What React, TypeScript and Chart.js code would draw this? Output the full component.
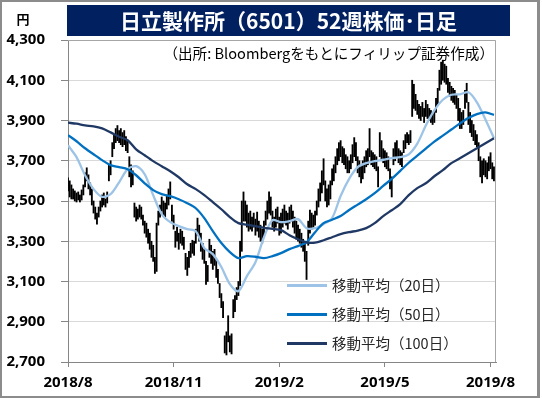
import React, { useEffect, useRef } from "react";
import { Chart, registerables } from "chart.js";

Chart.register(...registerables);

// Daily high / low (yen), one entry per trading day, Aug 2018 - Aug 2019
const highs = [
  3615, 3600, 3580, 3560, 3550, 3540, 3545, 3530, 3555, 3580,
  3640, 3665, 3630, 3590, 3560, 3500, 3470, 3440, 3470, 3500,
  3530, 3540, 3510, 3545, 3680, 3700, 3790, 3830, 3860, 3875,
  3850, 3860, 3840, 3850, 3820, 3800, 3720, 3680, 3650, 3490,
  3470, 3460, 3480, 3470, 3430, 3400, 3390, 3360, 3340, 3300,
  3280, 3220, 3390, 3450, 3480, 3520, 3500, 3490, 3530, 3560,
  3595, 3480, 3430, 3350, 3370, 3340, 3360, 3350, 3320, 3240,
  3220, 3250, 3290, 3305, 3300, 3360, 3415, 3380, 3340, 3290,
  3260, 3200, 3180, 3310, 3280, 3250, 3260, 3210, 3160, 3090,
  3040, 3000, 2830, 2850, 2930, 2830, 2840, 3010, 3030, 3070,
  3100, 3300, 3500, 3545, 3500, 3480, 3440, 3450, 3420, 3440,
  3410, 3445, 3400, 3380, 3360, 3400, 3450, 3500, 3545, 3520,
  3450, 3420, 3460, 3470, 3420, 3440, 3460, 3480, 3450, 3440,
  3470, 3480, 3450, 3420, 3400, 3380, 3360, 3340, 3310, 3290,
  3250, 3400, 3455, 3440, 3430, 3450, 3500, 3560, 3590, 3650,
  3710, 3600, 3560, 3580, 3600, 3660, 3680, 3720, 3760, 3790,
  3800, 3770, 3760, 3730, 3720, 3700, 3730, 3780, 3815, 3790,
  3720, 3700, 3680, 3700, 3720, 3750, 3760, 3860, 3750, 3740,
  3730, 3720, 3670, 3840, 3800, 3760, 3750, 3740, 3720, 3660,
  3620, 3760, 3790, 3800, 3760, 3750, 3740, 3800, 3830, 3840,
  3830, 3850, 4100, 4080, 4030, 4000, 3980, 3970, 3990, 3960,
  4000, 3980, 3960, 3950, 3940, 3950, 4010, 4060, 4150, 4190,
  4200, 4180, 4170, 4110, 4090, 4070, 4060, 4050, 4030, 4010,
  3960, 3940, 3950, 4050, 4085, 3990, 3940, 3900, 3880, 3850,
  3830, 3790, 3720, 3700, 3710, 3700, 3690, 3720, 3740, 3690,
  3670,
];
const lows = [
  3550, 3520, 3510, 3510, 3500, 3495, 3505, 3495, 3505, 3530,
  3570, 3600, 3560, 3530, 3480, 3440, 3410, 3385, 3420, 3450,
  3470, 3480, 3470, 3490, 3600, 3630, 3720, 3760, 3790, 3800,
  3790, 3780, 3770, 3780, 3750, 3740, 3620, 3570, 3580, 3420,
  3400, 3410, 3420, 3410, 3380, 3340, 3320, 3290, 3260, 3220,
  3200, 3140, 3150, 3380, 3420, 3450, 3430, 3420, 3460, 3480,
  3510, 3400, 3360, 3270, 3300, 3260, 3290, 3280, 3260, 3160,
  3130, 3170, 3220, 3240, 3230, 3290, 3330, 3300, 3250, 3210,
  3190, 3085, 3100, 3220, 3190, 3160, 3180, 3120, 3090, 3020,
  2970, 2920, 2745, 2735, 2800, 2750, 2740, 2920, 2950, 3010,
  3030, 3080, 3250, 3400, 3400, 3370, 3350, 3360, 3350, 3370,
  3330, 3350, 3320, 3300, 3290, 3320, 3380, 3410, 3440, 3430,
  3370, 3350, 3370, 3390, 3330, 3340, 3370, 3390, 3380, 3360,
  3390, 3400, 3370, 3340, 3310, 3300, 3290, 3270, 3250, 3200,
  3110, 3280, 3340, 3360, 3370, 3380, 3430, 3470, 3500, 3540,
  3580, 3500, 3470, 3480, 3510, 3580, 3600, 3640, 3680, 3700,
  3720, 3690, 3680, 3660, 3640, 3640, 3660, 3690, 3720, 3700,
  3640, 3620, 3590, 3610, 3640, 3670, 3680, 3720, 3680, 3670,
  3660, 3650, 3570, 3720, 3700, 3690, 3670, 3660, 3650, 3560,
  3520, 3680, 3700, 3720, 3690, 3680, 3670, 3740, 3760, 3790,
  3780, 3790, 3920, 3960, 3950, 3930, 3910, 3900, 3920, 3890,
  3920, 3910, 3900, 3890, 3880, 3890, 3940, 3980, 4050, 4080,
  4100, 4090, 4080, 4040, 4020, 4000, 3990, 3980, 3960, 3900,
  3860, 3860, 3880, 3960, 3990, 3880, 3840, 3820, 3800, 3780,
  3770, 3700, 3620, 3590, 3630, 3620, 3610, 3650, 3660, 3610,
  3600,
];

// Moving averages read every 5 trading days
const maIdx = [
  0, 5, 10, 15, 20, 25, 30, 35, 40, 45, 50, 55, 60, 65, 70, 75, 80, 85, 90, 95,
  100, 105, 110, 115, 120, 125, 130, 135, 140, 145, 150, 155, 160, 165, 170, 175,
  180, 185, 190, 195, 200, 205, 210, 215, 220, 225, 230, 235, 240, 245, 250,
];
const ma20 = [
  3777, 3718, 3628, 3559, 3521, 3534, 3593, 3658, 3673, 3633, 3529, 3435, 3395,
  3375, 3360, 3350, 3266, 3236, 3172, 3087, 3052, 3127, 3196, 3320, 3405, 3395,
  3400, 3410, 3365, 3365, 3385, 3415, 3525, 3610, 3668, 3688, 3698, 3705, 3713,
  3718, 3732, 3785, 3875, 3950, 4003, 4028, 4030, 4040, 3990, 3905, 3812,
];
const ma50 = [
  3827, 3797, 3762, 3732, 3703, 3678, 3668, 3658, 3628, 3588, 3554, 3534, 3524,
  3509, 3489, 3464, 3415, 3350, 3291, 3246, 3216, 3226, 3223, 3216, 3226, 3241,
  3261, 3276, 3295, 3345, 3390, 3407, 3425, 3455, 3482, 3509, 3539, 3575, 3610,
  3650, 3690, 3725, 3760, 3795, 3825, 3855, 3885, 3912, 3932, 3940, 3928,
];
const ma100 = [
  3889, 3884, 3876, 3871, 3861, 3841, 3819, 3802, 3757, 3727, 3698, 3673, 3648,
  3618, 3583, 3559, 3529, 3494, 3459, 3420, 3390, 3382, 3375, 3367, 3362, 3355,
  3330, 3310, 3295, 3293, 3305, 3320, 3335, 3345, 3353, 3365, 3390, 3425, 3454,
  3484, 3529, 3564, 3588, 3623, 3653, 3688, 3712, 3737, 3762, 3787, 3812,
];

const tickIdx = [0, 62, 124, 186, 248];
const tickLabels = ["2018/8", "2018/11", "2019/2", "2019/5", "2019/8"];
const yMin = 2700;
const yMax = 4300;
const yStep = 200;

const titleText = "日立製作所（6501）52週株価･日足";
const unitText = "円";
const sourceText = "（出所: Bloombergをもとにフィリップ証券作成）";
const legendLabels = ["移動平均（20日）", "移動平均（50日）", "移動平均（100日）"];

const C20 = "#9DC3E6";
const C50 = "#0070C0";
const C100 = "#1F3864";
const AXIS = "#868686";

const frame = {
  id: "frame",
  afterDatasetsDraw(chart: any) {
    const { ctx, chartArea } = chart;
    ctx.save();
    ctx.strokeStyle = "#A6A6A6";
    ctx.lineWidth = 1;
    ctx.beginPath();
    ctx.moveTo(chartArea.left, chartArea.top + 0.5);
    ctx.lineTo(chartArea.right - 0.5, chartArea.top + 0.5);
    ctx.lineTo(chartArea.right - 0.5, chartArea.bottom);
    ctx.stroke();
    ctx.restore();
  },
};

export default function App() {
  const ref = useRef<HTMLCanvasElement | null>(null);

  useEffect(() => {
    if (!ref.current) return;
    const candles = highs.map((h, i) => ({ x: i, y: [lows[i], h] }));
    const line = (vals: number[]) => maIdx.map((x, k) => ({ x, y: vals[k] }));
    const tickFont = { family: "'Noto Sans', sans-serif", weight: "bold" as const, size: 15 };
    const chart = new Chart(ref.current, {
      type: "bar",
      data: {
        datasets: [
          {
            type: "line",
            label: legendLabels[0],
            data: line(ma20),
            borderColor: C20,
            borderWidth: 2.3,
            pointRadius: 0,
            tension: 0.3,
            order: 3,
          } as any,
          {
            type: "line",
            label: legendLabels[1],
            data: line(ma50),
            borderColor: C50,
            borderWidth: 2.3,
            pointRadius: 0,
            tension: 0.3,
            order: 2,
          } as any,
          {
            type: "line",
            label: legendLabels[2],
            data: line(ma100),
            borderColor: C100,
            borderWidth: 2.3,
            pointRadius: 0,
            tension: 0.3,
            order: 1,
          } as any,
          {
            type: "bar",
            label: "株価",
            data: candles,
            backgroundColor: "#000000",
            barThickness: 1.2,
            grouped: false,
            order: 10,
          } as any,
        ],
      },
      options: {
        responsive: false,
        maintainAspectRatio: false,
        animation: false,
        events: [],
        layout: { padding: { left: 0, top: 40, right: 46, bottom: 0 } },
        plugins: { legend: { display: false }, tooltip: { enabled: false } },
        scales: {
          x: {
            type: "linear",
            min: 0,
            max: 251.2,
            offset: false,
            afterBuildTicks: (s: any) => {
              s.ticks = tickIdx.map((v) => ({ value: v }));
            },
            afterFit: (s: any) => {
              s.height = 36;
            },
            ticks: {
              callback: (_v: any, i: number) => tickLabels[i],
              font: tickFont,
              color: "#000000",
              padding: 7,
              maxRotation: 0,
              autoSkip: false,
            },
            grid: {
              drawOnChartArea: false,
              drawTicks: true,
              tickLength: 5,
              tickColor: AXIS,
              offset: false,
            },
            border: { color: AXIS, width: 1 },
          } as any,
          y: {
            min: yMin,
            max: yMax,
            afterFit: (s: any) => {
              s.width = 68;
            },
            ticks: {
              stepSize: yStep,
              callback: (v: any) => Number(v).toLocaleString("en-US"),
              font: tickFont,
              color: "#000000",
              padding: 16,
            },
            grid: { color: "#D9D9D9", tickLength: 7, tickColor: AXIS },
            border: { color: AXIS, width: 1 },
          } as any,
        },
      },
      plugins: [frame],
    });
    return () => chart.destroy();
  }, []);

  const cjk = "'Noto Sans CJK JP', 'Noto Sans', sans-serif";
  const legendColors = [C20, C50, C100];
  const legendY = [285, 314, 343];

  return (
    <div
      style={{
        position: "fixed",
        left: 0,
        top: 0,
        width: 542,
        height: 398,
        background: "#ffffff",
        overflow: "hidden",
      }}
    >
      <canvas
        ref={ref}
        width={542}
        height={398}
        style={{ position: "absolute", left: 0, top: 0, width: 542, height: 398 }}
      />
      <div
        style={{
          position: "absolute",
          left: 0,
          top: 0,
          width: 540,
          height: 398,
          boxSizing: "border-box",
          border: "2px solid #8C8C8C",
          borderRightWidth: 3,
          pointerEvents: "none",
        }}
      />
      <div
        style={{
          position: "absolute",
          left: 67,
          top: 5,
          width: 443,
          height: 31,
          background: "#002060",
          color: "#ffffff",
          fontFamily: cjk,
          fontWeight: 700,
          fontSize: 21,
          lineHeight: "31px",
          textAlign: "center",
          whiteSpace: "nowrap",
        }}
      >
        {titleText}
      </div>
      <div
        style={{
          position: "absolute",
          left: 14,
          top: 10,
          width: 18,
          textAlign: "center",
          fontFamily: cjk,
          fontWeight: 700,
          fontSize: 13,
          lineHeight: "18px",
          color: "#000000",
        }}
      >
        {unitText}
      </div>
      <div
        style={{
          position: "absolute",
          right: 48,
          top: 44,
          fontFamily: cjk,
          fontSize: 14.6,
          lineHeight: "18px",
          color: "#000000",
          whiteSpace: "nowrap",
        }}
      >
        {sourceText}
      </div>
      {legendLabels.map((lab, k) => (
        <React.Fragment key={lab}>
          <div
            style={{
              position: "absolute",
              left: 287,
              top: legendY[k] - 1,
              width: 40,
              height: 2.5,
              background: legendColors[k],
            }}
          />
          <div
            style={{
              position: "absolute",
              left: 332,
              top: legendY[k] - 10,
              height: 20,
              lineHeight: "20px",
              fontFamily: cjk,
              fontSize: 14.5,
              color: "#262626",
              whiteSpace: "nowrap",
            }}
          >
            {lab}
          </div>
        </React.Fragment>
      ))}
    </div>
  );
}
